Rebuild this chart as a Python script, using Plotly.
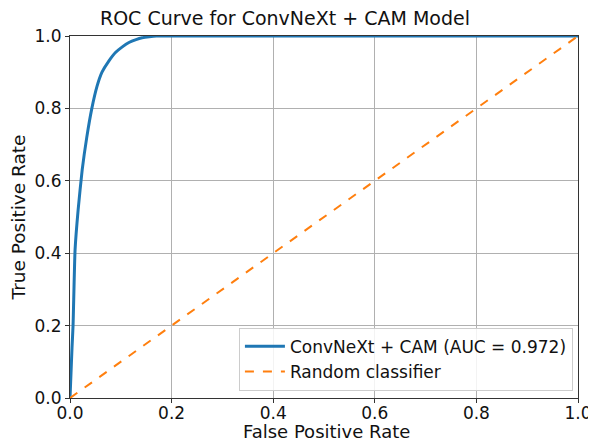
import plotly.graph_objects as go

fpr = [0.0, 0.002, 0.004, 0.006, 0.01, 0.016, 0.024, 0.033, 0.043, 0.053, 0.063, 0.076, 0.09, 0.103, 0.116, 0.13, 0.142, 0.156, 0.17, 0.2, 1.0]
tpr = [0.0, 0.07, 0.14, 0.2, 0.41, 0.52, 0.63, 0.72, 0.80, 0.86, 0.90, 0.93, 0.955, 0.97, 0.982, 0.99, 0.995, 0.998, 1.0, 1.0, 1.0]
rand_x = [0.0, 1.0]
rand_y = [0.0, 1.0]
ticks = [0.0, 0.2, 0.4, 0.6, 0.8, 1.0]
tick_text = ["0.0", "0.2", "0.4", "0.6", "0.8", "1.0"]

fig = go.Figure()
fig.add_trace(go.Scatter(x=fpr, y=tpr, mode="lines", name="ConvNeXt + CAM (AUC = 0.972)",
                         line=dict(color="#1f77b4", width=3, shape="spline", smoothing=0.5)))
fig.add_trace(go.Scatter(x=rand_x, y=rand_y, mode="lines", name="Random classifier",
                         line=dict(color="#ff7f0e", width=2, dash="dash")))

axis_common = dict(range=[0, 1], tickvals=ticks, ticktext=tick_text, showgrid=True,
                   gridcolor="#b0b0b0", gridwidth=1, showline=True, linecolor="#333333",
                   linewidth=1, mirror=True, ticks="outside", ticklen=4, tickcolor="#333333",
                   zeroline=False, automargin=False, tickfont=dict(size=17, color="#111111"))

# page body has an 8px default margin; figure sized to fill the rest of the window
fig.update_layout(
    width=588, height=434,
    margin=dict(l=62, r=18, t=28, b=44, autoexpand=False),
    paper_bgcolor="white", plot_bgcolor="white",
    font=dict(family="DejaVu Sans", color="#111111", size=17),
    title=dict(text="ROC Curve for ConvNeXt + CAM Model", x=0.471, xanchor="center",
               y=0.977, yanchor="middle", font=dict(size=19), automargin=False),
    xaxis=dict(**axis_common),
    yaxis=dict(title=dict(text="True Positive Rate", standoff=6, font=dict(size=18.5)), **axis_common),
    legend=dict(x=0.99, y=0.02, xanchor="right", yanchor="bottom",
                bgcolor="rgba(255,255,255,0.85)", bordercolor="#cccccc", borderwidth=1,
                font=dict(size=17), tracegroupgap=0, itemwidth=40),
    showlegend=True,
)
fig.add_annotation(text="False Positive Rate", xref="paper", yref="paper",
                   x=0.504, y=-0.0925, xanchor="center", yanchor="middle", borderpad=0,
                   showarrow=False, font=dict(size=18, color="#111111"))
fig.update_xaxes(ticklabelstandoff=-4)

fig.write_html("out.html")
